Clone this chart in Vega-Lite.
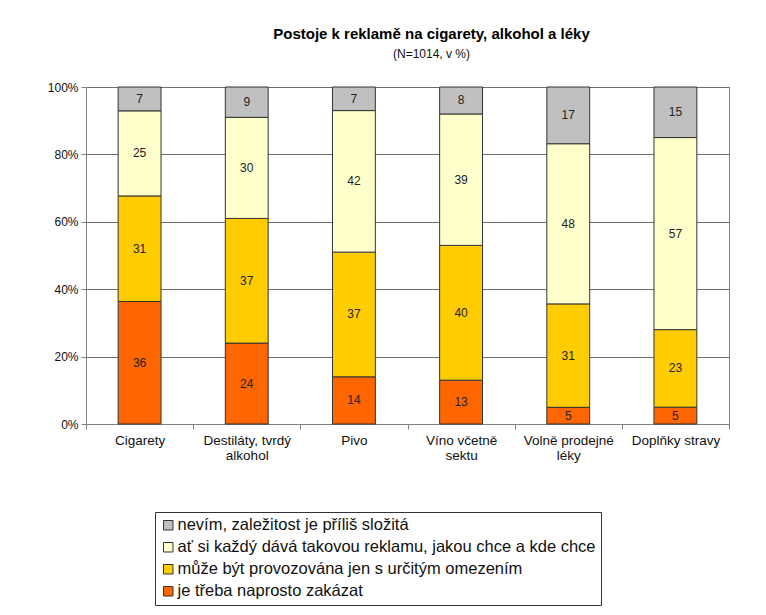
{
  "$schema": "https://vega.github.io/schema/vega-lite/v6.json",
  "width": 643,
  "height": 337,
  "autosize": {"type": "none"},
  "padding": {"left": 86, "top": 87, "right": 37, "bottom": 191},
  "background": "white",
  "config": {
    "font": "Liberation Sans",
    "view": {"stroke": "#808080", "strokeWidth": 1}
  },
  "title": {
    "text": "Postoje k reklamě na cigarety, alkohol a léky",
    "subtitle": "(N=1014, v %)",
    "anchor": "middle",
    "dx": 24,
    "fontSize": 15,
    "fontWeight": "bold",
    "color": "#000",
    "subtitleFontSize": 12,
    "subtitleColor": "#111",
    "subtitlePadding": 7,
    "offset": 21
  },
  "data": {
    "values": [
      {"kategorie": "Cigarety", "odpoved": "je třeba naprosto zakázat", "poradi": 1, "hodnota": 36},
      {"kategorie": "Cigarety", "odpoved": "může být provozována jen s určitým omezením", "poradi": 2, "hodnota": 31},
      {"kategorie": "Cigarety", "odpoved": "ať si každý dává takovou reklamu, jakou chce a kde chce", "poradi": 3, "hodnota": 25},
      {"kategorie": "Cigarety", "odpoved": "nevím, zaležitost je příliš složitá", "poradi": 4, "hodnota": 7},
      {"kategorie": "Destiláty, tvrdý alkohol", "odpoved": "je třeba naprosto zakázat", "poradi": 1, "hodnota": 24},
      {"kategorie": "Destiláty, tvrdý alkohol", "odpoved": "může být provozována jen s určitým omezením", "poradi": 2, "hodnota": 37},
      {"kategorie": "Destiláty, tvrdý alkohol", "odpoved": "ať si každý dává takovou reklamu, jakou chce a kde chce", "poradi": 3, "hodnota": 30},
      {"kategorie": "Destiláty, tvrdý alkohol", "odpoved": "nevím, zaležitost je příliš složitá", "poradi": 4, "hodnota": 9},
      {"kategorie": "Pivo", "odpoved": "je třeba naprosto zakázat", "poradi": 1, "hodnota": 14},
      {"kategorie": "Pivo", "odpoved": "může být provozována jen s určitým omezením", "poradi": 2, "hodnota": 37},
      {"kategorie": "Pivo", "odpoved": "ať si každý dává takovou reklamu, jakou chce a kde chce", "poradi": 3, "hodnota": 42},
      {"kategorie": "Pivo", "odpoved": "nevím, zaležitost je příliš složitá", "poradi": 4, "hodnota": 7},
      {"kategorie": "Víno včetně sektu", "odpoved": "je třeba naprosto zakázat", "poradi": 1, "hodnota": 13},
      {"kategorie": "Víno včetně sektu", "odpoved": "může být provozována jen s určitým omezením", "poradi": 2, "hodnota": 40},
      {"kategorie": "Víno včetně sektu", "odpoved": "ať si každý dává takovou reklamu, jakou chce a kde chce", "poradi": 3, "hodnota": 39},
      {"kategorie": "Víno včetně sektu", "odpoved": "nevím, zaležitost je příliš složitá", "poradi": 4, "hodnota": 8},
      {"kategorie": "Volně prodejné léky", "odpoved": "je třeba naprosto zakázat", "poradi": 1, "hodnota": 5},
      {"kategorie": "Volně prodejné léky", "odpoved": "může být provozována jen s určitým omezením", "poradi": 2, "hodnota": 31},
      {"kategorie": "Volně prodejné léky", "odpoved": "ať si každý dává takovou reklamu, jakou chce a kde chce", "poradi": 3, "hodnota": 48},
      {"kategorie": "Volně prodejné léky", "odpoved": "nevím, zaležitost je příliš složitá", "poradi": 4, "hodnota": 17},
      {"kategorie": "Doplňky stravy", "odpoved": "je třeba naprosto zakázat", "poradi": 1, "hodnota": 5},
      {"kategorie": "Doplňky stravy", "odpoved": "může být provozována jen s určitým omezením", "poradi": 2, "hodnota": 23},
      {"kategorie": "Doplňky stravy", "odpoved": "ať si každý dává takovou reklamu, jakou chce a kde chce", "poradi": 3, "hodnota": 57},
      {"kategorie": "Doplňky stravy", "odpoved": "nevím, zaležitost je příliš složitá", "poradi": 4, "hodnota": 15}
    ]
  },
  "encoding": {
    "x": {
      "field": "kategorie",
      "type": "nominal",
      "sort": null,
      "title": null,
      "scale": {"paddingInner": 0, "paddingOuter": 0},
      "axis": {
        "labelAngle": 0,
        "tickBand": "extent",
        "tickSize": 5,
        "tickColor": "#808080",
        "domainColor": "#808080",
        "labelFontSize": 13.5,
        "labelColor": "#111",
        "labelPadding": 4,
        "labelLineHeight": 15,
        "labelBaseline": "top",
        "grid": false,
        "labelExpr": "datum.value == 'Destiláty, tvrdý alkohol' ? ['Destiláty, tvrdý', 'alkohol'] : datum.value == 'Víno včetně sektu' ? ['Víno včetně', 'sektu'] : datum.value == 'Volně prodejné léky' ? ['Volně prodejné', 'léky'] : datum.value"
      }
    },
    "order": {"field": "poradi", "type": "quantitative", "sort": "ascending"}
  },
  "layer": [
    {
      "mark": {"type": "bar", "width": {"band": 0.4}, "stroke": "#333", "strokeWidth": 1},
      "encoding": {
        "y": {
          "field": "hodnota",
          "type": "quantitative",
          "stack": "normalize",
          "title": null,
          "scale": {"domain": [0, 1]},
          "axis": {
            "values": [0, 0.2, 0.4, 0.6, 0.8, 1],
            "format": ".0%",
            "gridColor": "#6e6e6e",
            "tickColor": "#808080",
            "domainColor": "#808080",
            "tickSize": 5,
            "labelFontSize": 12,
            "labelColor": "#111",
            "labelPadding": 3
          }
        },
        "color": {
          "field": "odpoved",
          "type": "nominal",
          "scale": {
            "domain": [
              "nevím, zaležitost je příliš složitá",
              "ať si každý dává takovou reklamu, jakou chce a kde chce",
              "může být provozována jen s určitým omezením",
              "je třeba naprosto zakázat"
            ],
            "range": ["#c0c0c0", "#ffffcc", "#ffcc00", "#ff6600"]
          },
          "legend": {
            "title": null,
            "orient": "none",
            "legendX": 69,
            "legendY": 425,
            "direction": "vertical",
            "strokeColor": "#333",
            "padding": 5,
            "labelFontSize": 16.5,
            "labelColor": "#111",
            "labelLimit": 700,
            "symbolType": "square",
            "symbolSize": 90,
            "symbolStrokeColor": "#333",
            "symbolStrokeWidth": 1,
            "symbolOpacity": 1,
            "labelOffset": 1,
            "rowPadding": 5
          }
        }
      }
    },
    {
      "mark": {"type": "text", "fontSize": 12, "color": "#222"},
      "encoding": {
        "y": {"field": "hodnota", "type": "quantitative", "stack": "normalize", "bandPosition": 0.5},
        "text": {"field": "hodnota", "type": "quantitative"},
        "detail": {"field": "odpoved"}
      }
    }
  ]
}
